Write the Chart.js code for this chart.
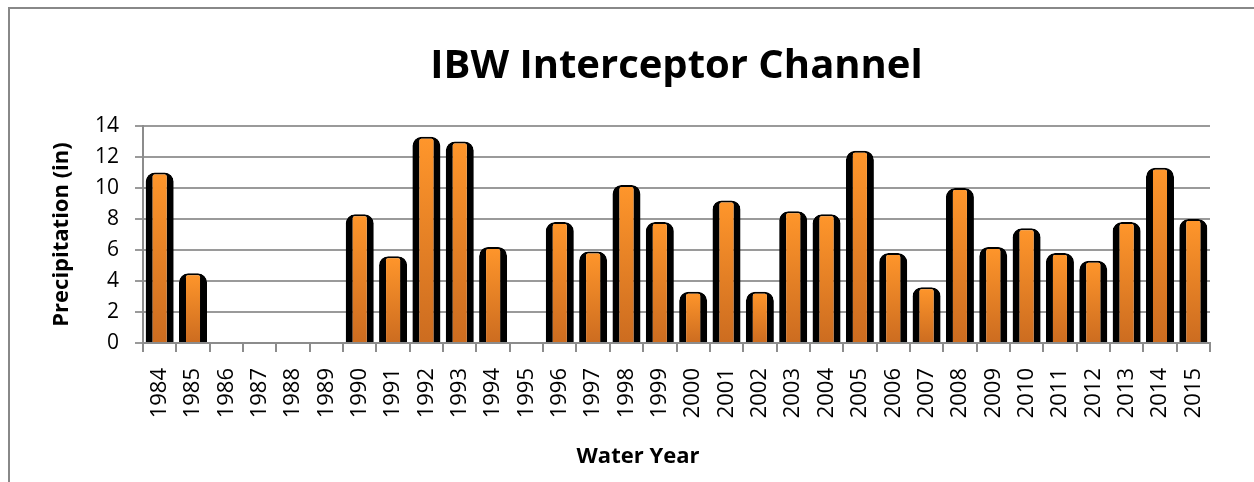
<!DOCTYPE html>
<html>
<head>
<meta charset="utf-8">
<script src="https://cdn.jsdelivr.net/npm/chart.js"></script>
<style>
  html, body { margin: 0; padding: 0; background: #fff; }
</style>
</head>
<body>
<canvas id="myChart" width="1254" height="482"></canvas>
<script>
// dados
const years = ['1984', '1985', '1986', '1987', '1988', '1989', '1990', '1991',
  '1992', '1993', '1994', '1995', '1996', '1997', '1998', '1999', '2000',
  '2001', '2002', '2003', '2004', '2005', '2006', '2007', '2008', '2009',
  '2010', '2011', '2012', '2013', '2014', '2015'];
const precip = [11.0, 4.5, 0, 0, 0, 0, 8.3, 5.6, 13.3, 13.0, 6.2, 0, 7.8, 5.9,
  10.2, 7.8, 3.3, 9.2, 3.3, 8.5, 8.3, 12.4, 5.8, 3.6, 10.0, 6.2, 7.4, 5.8, 5.3,
  7.8, 11.3, 8.0];
const yTicks = [0, 2, 4, 6, 8, 10, 12, 14];

const fonte = "'Open Sans', 'Liberation Sans', sans-serif";
const cinza = '#8c8c8c';

// moldura cinza + fundo branco
const moldura = {
  id: 'moldura',
  beforeDraw(chart) {
    const c = chart.ctx;
    c.save();
    c.fillStyle = '#fff';
    c.fillRect(0, 0, chart.width, chart.height);
    c.strokeStyle = '#888';
    c.lineWidth = 2;
    c.strokeRect(9, 8, chart.width + 20, chart.height + 20);
    c.restore();
  },
  afterDraw(chart) {
    // titulo do eixo x (fica um pouco a esquerda do centro no original)
    const c = chart.ctx;
    c.save();
    c.font = 'bold 22px ' + fonte;
    c.fillStyle = '#000';
    c.textAlign = 'center';
    c.textBaseline = 'middle';
    c.fillText('Water Year', 638, 457);
    c.restore();
  }
};

function corBarra(ctx) {
  const chart = ctx.chart;
  if (!chart.chartArea || !ctx.parsed) return '#f7932f';
  const y = chart.scales.y;
  const topo = y.getPixelForValue(ctx.parsed.y);
  const base = y.getPixelForValue(0);
  if (base - topo < 1) return '#f7932f';
  const g = chart.ctx.createLinearGradient(0, topo, 0, base);
  g.addColorStop(0, '#ff962b');
  g.addColorStop(1, '#cc6c20');
  return g;
}

const criandografico = document.getElementById('myChart');
new Chart(criandografico, {
  type: 'bar',
  data: {
    labels: years,
    datasets: [{
      label: 'Precipitation',
      data: precip,
      backgroundColor: corBarra,
      borderColor: '#000',
      borderWidth: { left: 7, right: 7, top: 2, bottom: 0 },
      borderSkipped: 'bottom',
      borderRadius: { topLeft: 9, topRight: 9, bottomLeft: 0, bottomRight: 0 },
      categoryPercentage: 1,
      barPercentage: 0.84
    }]
  },
  options: {
    responsive: false,
    animation: false,
    layout: { padding: { left: 40, right: 44, top: 0, bottom: 10 } },
    plugins: {
      legend: { display: false },
      tooltip: { enabled: false },
      title: {
        display: true,
        text: 'IBW Interceptor Channel',
        color: '#000',
        fullSize: false,
        font: { family: fonte, size: 40, weight: 'bold' },
        padding: { top: 43, bottom: 35 }
      }
    },
    scales: {
      x: {
        grid: {
          display: true,
          drawOnChartArea: false,
          drawTicks: true,
          tickLength: 9,
          color: cinza,
          lineWidth: 2,
          offset: true
        },
        border: { color: cinza, width: 2 },
        ticks: {
          autoSkip: false,
          minRotation: 90,
          maxRotation: 90,
          padding: 16,
          color: '#000',
          font: { family: fonte, size: 22 }
        },
        afterFit(scale) { scale.height = 482 - 343 - 10; }
      },
      y: {
        min: 0,
        max: 14,
        afterBuildTicks(scale) { scale.ticks = yTicks.map(v => ({ value: v })); },
        grid: { color: '#9a9a9a', lineWidth: 2, tickLength: 8 },
        border: { color: cinza, width: 2 },
        ticks: {
          padding: 16,
          color: '#000',
          font: { family: fonte, size: 21 }
        },
        title: {
          display: true,
          text: 'Precipitation (in)',
          color: '#000',
          font: { family: fonte, size: 22, weight: 'bold' },
          padding: { top: 9, bottom: 0 }
        },
        afterFit(scale) { scale.width = 143 - 40; }
      }
    }
  },
  plugins: [moldura]
});
</script>
</body>
</html>
